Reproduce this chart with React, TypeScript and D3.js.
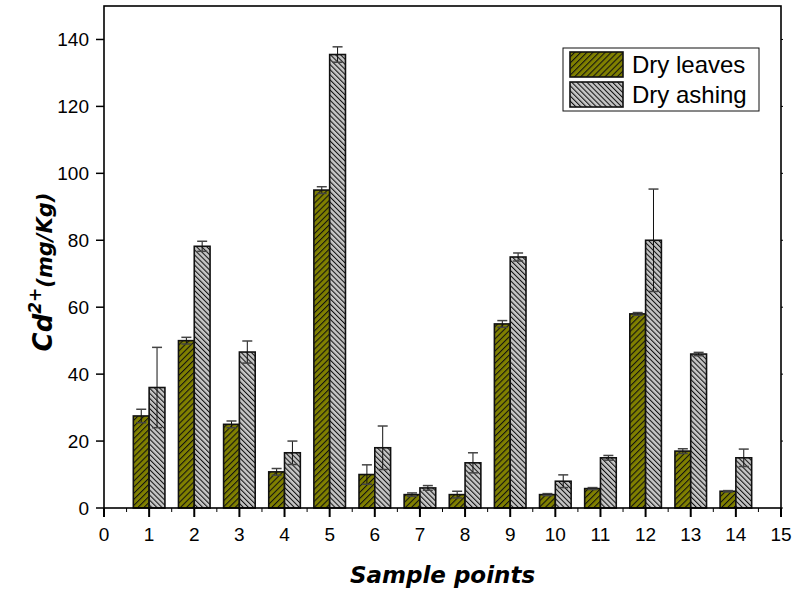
import { useEffect, useRef } from "react";
import * as d3 from "d3";

// values
const samplePoints = [1, 2, 3, 4, 5, 6, 7, 8, 9, 10, 11, 12, 13, 14];
const dryLeaves = [27.5, 50, 25, 10.8, 95, 10, 4, 4, 55, 4, 5.8, 58, 17, 5];
const dryLeavesErr = [2, 1, 1, 1, 1, 2.9, 0.5, 1, 1, 0.3, 0.3, 0.4, 0.7, 0.2];
const dryAshing = [36, 78.2, 46.6, 16.5, 135.5, 18, 6, 13.5, 75, 8, 15, 80, 46, 15];
const dryAshingErr = [12, 1.5, 3.3, 3.5, 2.3, 6.5, 0.7, 3, 1.2, 1.9, 0.7, 15.3, 0.5, 2.6];
const xTicks = d3.range(0, 16);
const yTicks = [0, 20, 40, 60, 80, 100, 120, 140];
const seriesNames = ["Dry leaves", "Dry ashing"];

const width = 795;
const height = 594;
const margin = { top: 6, right: 14, bottom: 86, left: 104 };
const barW = 0.35;

export default function App() {
  const ref = useRef<SVGSVGElement>(null);

  useEffect(() => {
    const svg = d3.select(ref.current);
    svg.selectAll("*").remove();

    const x = d3.scaleLinear().domain([0, 15]).range([margin.left, width - margin.right]);
    const y = d3.scaleLinear().domain([0, 150]).range([height - margin.bottom, margin.top]);
    const x0 = x(0);
    const x1 = x(15);
    const y0 = y(0);
    const y1 = y(150);

    const defs = svg.append("defs");
    const hatch = (id: string, bg: string, angle: number, gap: number) => {
      const p = defs
        .append("pattern")
        .attr("id", id)
        .attr("patternUnits", "userSpaceOnUse")
        .attr("width", gap)
        .attr("height", gap)
        .attr("patternTransform", `rotate(${angle})`);
      p.append("rect").attr("width", gap).attr("height", gap).attr("fill", bg);
      p.append("line")
        .attr("x1", 0.5)
        .attr("x2", 0.5)
        .attr("y1", 0)
        .attr("y2", gap)
        .attr("stroke", "#111")
        .attr("stroke-width", 1.1);
    };
    hatch("hatchLeaves", "#808000", 45, 4.3);
    hatch("hatchAshing", "#c6c6c6", -45, 3.6);
    const fills = ["url(#hatchLeaves)", "url(#hatchAshing)"];

    const series = [
      { values: dryLeaves, errs: dryLeavesErr, offset: -barW },
      { values: dryAshing, errs: dryAshingErr, offset: 0 },
    ];

    series.forEach((s, si) => {
      const g = svg.append("g");
      g.selectAll("rect")
        .data(samplePoints)
        .join("rect")
        .attr("x", (d) => x(d + s.offset))
        .attr("y", (_, i) => y(s.values[i]))
        .attr("width", x(barW) - x(0))
        .attr("height", (_, i) => y0 - y(s.values[i]))
        .attr("fill", fills[si])
        .attr("stroke", "#111")
        .attr("stroke-width", 1.6);
    });

    // error bars
    series.forEach((s) => {
      const g = svg.append("g");
      samplePoints.forEach((d, i) => {
        const cx = x(d + s.offset + barW / 2);
        const hi = y(s.values[i] + s.errs[i]);
        const lo = y(s.values[i] - s.errs[i]);
        g.append("line")
          .attr("x1", cx)
          .attr("x2", cx)
          .attr("y1", hi)
          .attr("y2", lo)
          .attr("stroke", "#111")
          .attr("stroke-width", 1);
        [hi, lo].forEach((yy) =>
          g
            .append("line")
            .attr("x1", cx - 5)
            .attr("x2", cx + 5)
            .attr("y1", yy)
            .attr("y2", yy)
            .attr("stroke", "#444")
            .attr("stroke-width", 1.5),
        );
      });
    });

    // frame
    svg
      .append("rect")
      .attr("x", x0)
      .attr("y", y1)
      .attr("width", x1 - x0)
      .attr("height", y0 - y1)
      .attr("fill", "none")
      .attr("stroke", "#000")
      .attr("stroke-width", 1.6);

    // x ticks
    const ax = svg.append("g");
    ax.selectAll(".maj")
      .data(xTicks)
      .join("line")
      .attr("x1", (d) => x(d))
      .attr("x2", (d) => x(d))
      .attr("y1", y0)
      .attr("y2", y0 + 9)
      .attr("stroke", "#000")
      .attr("stroke-width", 2);
    ax.selectAll(".minor")
      .data(d3.range(0.5, 15, 1))
      .join("line")
      .attr("x1", (d) => x(d))
      .attr("x2", (d) => x(d))
      .attr("y1", y0)
      .attr("y2", y0 + 4)
      .attr("stroke", "#000")
      .attr("stroke-width", 1);
    ax.selectAll("text")
      .data(xTicks)
      .join("text")
      .attr("x", (d) => x(d))
      .attr("y", y0 + 33)
      .attr("text-anchor", "middle")
      .attr("font-family", "Liberation Sans, Arial, sans-serif")
      .attr("font-size", 19)
      .text((d) => d);

    // y ticks
    const ay = svg.append("g");
    ay.selectAll("line.l")
      .data(yTicks)
      .join("line")
      .attr("x1", x0 - 8)
      .attr("x2", x0)
      .attr("y1", (d) => y(d))
      .attr("y2", (d) => y(d))
      .attr("stroke", "#000")
      .attr("stroke-width", 1.5);
    yTicks.forEach((d) =>
      ay
        .append("line")
        .attr("x1", x1)
        .attr("x2", x1 + 2)
        .attr("y1", y(d))
        .attr("y2", y(d))
        .attr("stroke", "#000")
        .attr("stroke-width", 1),
    );
    ay.selectAll("text")
      .data(yTicks)
      .join("text")
      .attr("x", x0 - 15)
      .attr("y", (d) => y(d))
      .attr("dy", "0.36em")
      .attr("text-anchor", "end")
      .attr("font-family", "Liberation Sans, Arial, sans-serif")
      .attr("font-size", 19)
      .text((d) => d);

    // axis titles
    svg
      .append("text")
      .attr("x", (x0 + x1) / 2)
      .attr("y", 583)
      .attr("text-anchor", "middle")
      .attr("font-family", "DejaVu Sans, Verdana, sans-serif")
      .attr("font-weight", "bold")
      .attr("font-style", "italic")
      .attr("font-size", 23)
      .text("Sample points");

    const yt = svg
      .append("text")
      .attr("transform", "translate(52,272) rotate(-90)")
      .attr("text-anchor", "middle")
      .attr("font-family", "DejaVu Sans, Verdana, sans-serif")
      .attr("font-weight", "bold")
      .attr("font-style", "italic");
    yt.append("tspan").attr("font-size", 26).text("Cd");
    yt.append("tspan").attr("font-size", 17).attr("dy", -11).text("2+");
    yt.append("tspan").attr("font-size", 21).attr("dy", 11).text("(mg/Kg)");

    // legend
    const lg = svg.append("g");
    lg.append("rect")
      .attr("x", 563)
      .attr("y", 48)
      .attr("width", 196)
      .attr("height", 63)
      .attr("fill", "#fff")
      .attr("stroke", "#111")
      .attr("stroke-width", 1);
    seriesNames.forEach((name, i) => {
      lg.append("rect")
        .attr("x", 570)
        .attr("y", 52 + i * 30)
        .attr("width", 53)
        .attr("height", 25)
        .attr("fill", fills[i])
        .attr("stroke", "#111")
        .attr("stroke-width", 1.6);
      lg.append("text")
        .attr("x", 632)
        .attr("y", 73 + i * 30)
        .attr("font-family", "Liberation Sans, Arial, sans-serif")
        .attr("font-size", 24)
        .text(name);
    });
  }, []);

  return (
    <svg
      ref={ref}
      width={width}
      height={height}
      style={{ position: "absolute", left: 0, top: 0, background: "#fff" }}
    />
  );
}
